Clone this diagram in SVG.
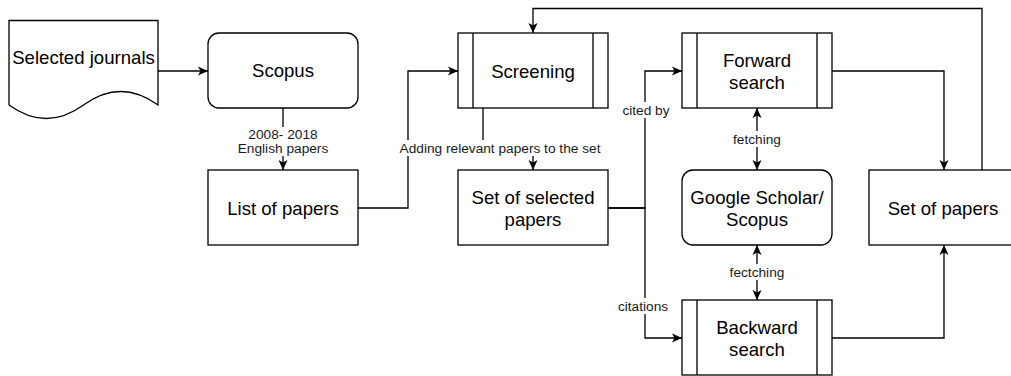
<svg xmlns="http://www.w3.org/2000/svg" width="1011" height="376" viewBox="0 0 1011 376">
<style>
.s{fill:#fff;stroke:#000;stroke-width:1.3}
.n{font-family:"Liberation Sans",Arial,sans-serif;font-size:18.6px;fill:#000;text-anchor:middle;dominant-baseline:central}
.l{font-family:"Liberation Sans",Arial,sans-serif;font-size:13.7px;fill:#1a1a1a;text-anchor:middle;dominant-baseline:central}
.e{fill:none;stroke:#000;stroke-width:1.3}
.bg{fill:#fff}
</style>
<defs>
<marker id="a" markerUnits="userSpaceOnUse" markerWidth="13" markerHeight="12" refX="11" refY="5.5" orient="auto-start-reverse">
<path d="M1,1 L11,5.5 L1,10 L3.5,5.5 Z" fill="#000"/>
</marker>
</defs>
<g id="connectors">
<path class="e" d="M158,71 H208" marker-end="url(#a)"/>
<path class="e" d="M283,108 V170" marker-end="url(#a)"/>
<path class="e" d="M358,208 H408 V71 H458" marker-end="url(#a)"/>
<path class="e" d="M483,108 V148 H533 V170" marker-end="url(#a)"/>
<path class="e" d="M608,208 H645 V71 H682" marker-end="url(#a)"/>
<path class="e" d="M608,208 H645 V338 H682" marker-end="url(#a)"/>
<path class="e" d="M757,108 V170" marker-start="url(#a)" marker-end="url(#a)"/>
<path class="e" d="M757,245 V300" marker-start="url(#a)" marker-end="url(#a)"/>
<path class="e" d="M832,71 H944 V170" marker-end="url(#a)"/>
<path class="e" d="M832,338 H944 V245" marker-end="url(#a)"/>
<path class="e" d="M982,170 V8.5 H533 V33" marker-end="url(#a)"/>
<rect class="bg" x="238" y="127" width="90" height="29"/>
<text class="l" x="283" y="134.5">2008- 2018</text>
<text class="l" x="283" y="148">English papers</text>
<rect class="bg" x="397" y="140" width="206" height="16"/>
<text class="l" x="500" y="148">Adding relevant papers to the set</text>
<rect class="bg" x="620" y="102" width="52" height="16"/>
<text class="l" x="646" y="110">cited by</text>
<rect class="bg" x="617" y="298" width="54" height="16"/>
<text class="l" x="643" y="306">citations</text>
<rect class="bg" x="731" y="131" width="52" height="16"/>
<text class="l" x="757" y="139">fetching</text>
<rect class="bg" x="728" y="264" width="58" height="16"/>
<text class="l" x="757" y="272">fectching</text>
</g>
<g id="journals">
<path class="s" d="M9,20.5 H158 V105 Q120.75,78 83.5,105 Q46.25,132 9,105 Z"/>
<text class="n" x="83.5" y="57">Selected journals</text>
</g>
<g id="scopus">
<rect class="s" x="208" y="33" width="150" height="75" rx="11"/>
<text class="n" x="283" y="70.5">Scopus</text>
</g>
<g id="list">
<rect class="s" x="208" y="170" width="150" height="75"/>
<text class="n" x="283" y="208">List of papers</text>
</g>
<g id="screening">
<rect class="s" x="458" y="33" width="150" height="75"/>
<path class="e" d="M473,33 V108 M593,33 V108"/>
<text class="n" x="533" y="71">Screening</text>
</g>
<g id="selected">
<rect class="s" x="458" y="170" width="150" height="75"/>
<text class="n" x="533" y="197.5">Set of selected</text>
<text class="n" x="533" y="219">papers</text>
</g>
<g id="forward">
<rect class="s" x="682" y="33" width="150" height="75"/>
<path class="e" d="M697,33 V108 M817,33 V108"/>
<text class="n" x="757" y="60.5">Forward</text>
<text class="n" x="757" y="82">search</text>
</g>
<g id="scholar">
<rect class="s" x="682" y="170" width="150" height="75" rx="11"/>
<text class="n" x="757" y="197.5">Google Scholar/</text>
<text class="n" x="757" y="219">Scopus</text>
</g>
<g id="backward">
<rect class="s" x="682" y="300" width="150" height="75"/>
<path class="e" d="M697,300 V375 M817,300 V375"/>
<text class="n" x="757" y="327.5">Backward</text>
<text class="n" x="757" y="349">search</text>
</g>
<g id="setpapers">
<rect class="s" x="869" y="170" width="150" height="75"/>
<text class="n" x="943" y="208">Set of papers</text>
</g>
</svg>
